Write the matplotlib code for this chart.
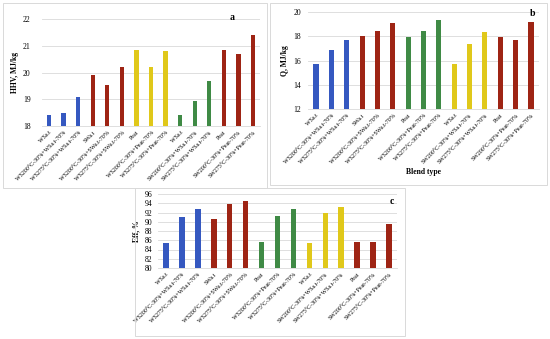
import matplotlib
matplotlib.use("Agg")
import matplotlib.pyplot as plt
from matplotlib.patches import Rectangle

plt.rcParams['font.family'] = ['Liberation Serif', 'DejaVu Serif']

labels = ["WSa.t", "WS200°C-30%+WSa.t-70%", "WS275°C-30%+WSa.t-70%",
          "SWa.t", "WS200°C-30%+SWa.t-70%", "WS275°C-30%+SWa.t-70%",
          "Peat", "WS200°C-30%+Peat-70%", "WS275°C-30%+Peat-70%",
          "WSa.t", "SW200°C-30%+WSa.t-70%", "SW275°C-30%+WSa.t-70%",
          "Peat", "SW200°C-30%+Peat-70%", "SW275°C-30%+Peat-70%"]

hhv = [18.4, 18.5, 19.1, 19.9, 19.55, 20.2, 20.85, 20.2, 20.8,
       18.4, 18.95, 19.7, 20.85, 20.7, 21.4]
q = [15.7, 16.85, 17.7, 18.05, 18.4, 19.1, 17.9, 18.45, 19.35,
     15.7, 17.4, 18.35, 17.9, 17.7, 19.15]
eff = [85.3, 91.1, 92.7, 90.5, 93.9, 94.5, 85.7, 91.3, 92.8,
       85.3, 91.8, 93.1, 85.7, 85.7, 89.5]

BLUE = "#3558c0"
RED = "#9e2414"
YEL = "#e0c81a"
GRN = "#3f8a45"
colors_a = [BLUE] * 3 + [RED] * 3 + [YEL] * 3 + [GRN] * 3 + [RED] * 3
colors_bc = [BLUE] * 3 + [RED] * 3 + [GRN] * 3 + [YEL] * 3 + [RED] * 3

W, H = 550, 339
fig = plt.figure(figsize=(W / 100, H / 100), dpi=100)


def px_axes(x0, y0, x1, y1):
    return fig.add_axes([x0 / W, 1 - y1 / H, (x1 - x0) / W, (y1 - y0) / H])


def frame(x0, y0, x1, y1):
    fig.patches.append(Rectangle((x0 / W, 1 - y1 / H), (x1 - x0) / W, (y1 - y0) / H,
                                 transform=fig.transFigure, fill=False,
                                 edgecolor="#d9d9d9", lw=0.7))


def letter(s, x, y):
    fig.text(x / W, 1 - y / H, s, fontsize=7, fontweight="bold", ha="center", va="center")


def panel(ax, vals, cols, ylim, step, ylabel, width, pad):
    x = range(len(vals))
    ax.bar(x, [v - ylim[0] for v in vals], bottom=ylim[0], color=cols, width=width, zorder=3)
    ax.set_xlim(-0.5, len(vals) - 0.5)
    ax.set_ylim(*ylim)
    ax.set_yticks(range(ylim[0], ylim[1] + 1, step))
    ax.yaxis.grid(True, color="#d9d9d9", lw=0.6, zorder=0)
    for s in ax.spines.values():
        s.set_visible(False)
    ax.spines['bottom'].set_visible(True)
    ax.spines['bottom'].set_color("#d9d9d9")
    ax.spines['bottom'].set_linewidth(0.6)
    ax.tick_params(axis="y", length=0, labelsize=5.5, pad=pad)
    ax.tick_params(axis="x", length=0, pad=3)
    ax.set_xticks(list(x))
    ax.set_xticklabels(labels, rotation=45, ha="right", rotation_mode="anchor", fontsize=4.3)
    ax.set_ylabel(ylabel, fontsize=5.5, fontweight="bold", labelpad=3)


frame(3, 3, 267, 188)
frame(270, 3, 547, 185)
frame(135, 188, 405, 336)

ax_a = px_axes(41.7, 19, 260.3, 126)
panel(ax_a, hhv, colors_a, (18, 22), 1, "HHV, MJ/kg", 0.3, 8)
letter("a", 232, 18)

ax_b = px_axes(308.3, 12, 538.7, 109)
panel(ax_b, q, colors_bc, (12, 20), 2, "Q, MJ/kg", 0.33, 5)
ax_b.set_xlabel("Blend type", fontsize=5.5, fontweight="bold", labelpad=2)
letter("b", 533, 14)

ax_c = px_axes(158, 194, 397, 268)
panel(ax_c, eff, colors_bc, (80, 96), 2, "Eff, %", 0.35, 4)
letter("c", 392, 201)

fig.savefig("out.png", dpi=100)
